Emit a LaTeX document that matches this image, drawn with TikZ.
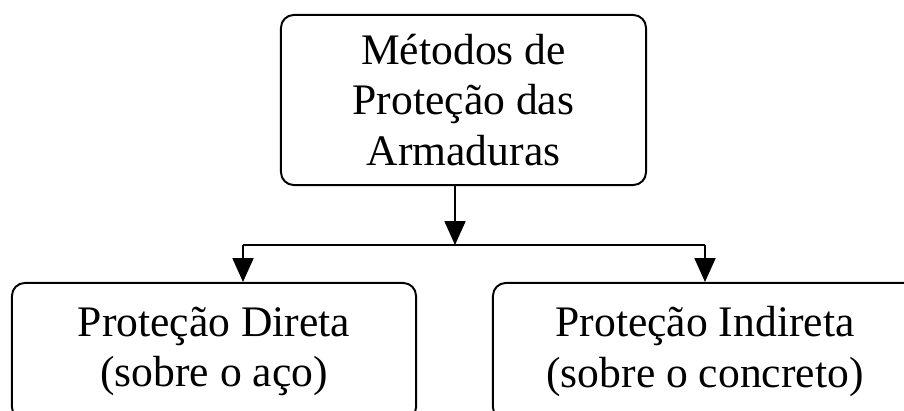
\documentclass[tikz,border=0pt]{standalone}
\usepackage{fontspec}
\setmainfont{Liberation Serif}
\usetikzlibrary{arrows.meta,positioning,calc}

\tikzset{
  metbox/.style={draw,line width=1.4pt,rounded corners=0.32cm,align=center,inner sep=0pt,
    font=\fontsize{31}{36}\selectfont},
  flow/.style={line width=1pt,-{Triangle[length=17pt,width=15pt]}}
}

\begin{document}
\begin{tikzpicture}[x=0.025cm,y=0.025cm]
\useasboundingbox (0,0) rectangle (904,410);
\clip (0,0) rectangle (904,410);
\node[metbox,minimum width=9.125cm,minimum height=4.25cm] (metodos) at (463.5,310)
  {Métodos de\\Proteção das\\Armaduras};
\node[metbox,minimum width=10.1cm,minimum height=3.425cm] (direta) at (214,58.5)
  {Proteção Direta\\(sobre o aço)};
\node[metbox,minimum width=10.6cm,minimum height=3.425cm] (indireta) at (705,58.5)
  {Proteção Indireta\\(sobre o concreto)};
\coordinate (split) at (455,165);
\coordinate (esq) at (243,165);
\coordinate (dir) at (705,165);
\draw[flow] (metodos.south -| split) -- (split);
\draw[line width=1pt] (esq) -- (dir);
\draw[flow] (esq) -- (esq |- direta.north);
\draw[flow] (dir) -- (dir |- indireta.north);
\end{tikzpicture}
\end{document}
